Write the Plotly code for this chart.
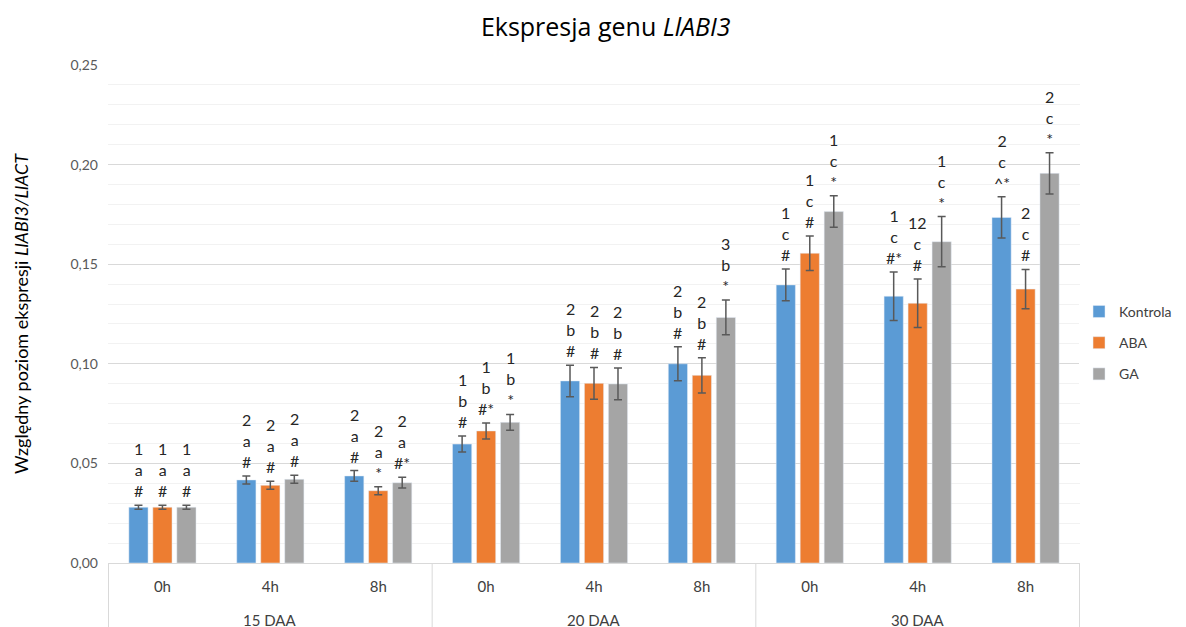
import plotly.graph_objects as go

group_names = ["15 DAA", "20 DAA", "30 DAA"]
time_names = ["0h", "4h", "8h"]
groups = ["15 DAA"] * 3 + ["20 DAA"] * 3 + ["30 DAA"] * 3
times = ["0h", "4h", "8h"] * 3
categories = [g + " | " + t for g, t in zip(groups, times)]

series_names = ["Kontrola", "ABA", "GA"]
kontrola = [0.028, 0.0417, 0.0437, 0.0597, 0.0914, 0.1000, 0.1396, 0.1339, 0.1735]
aba = [0.028, 0.039, 0.0363, 0.0663, 0.0902, 0.0942, 0.1555, 0.1304, 0.1375]
ga = [0.028, 0.042, 0.0403, 0.0706, 0.0899, 0.1233, 0.1764, 0.1613, 0.1956]

kontrola_err = [0.001, 0.002, 0.0027, 0.004, 0.0079, 0.0085, 0.008, 0.0122, 0.0104]
aba_err = [0.001, 0.002, 0.002, 0.004, 0.008, 0.0088, 0.0087, 0.0122, 0.0099]
ga_err = [0.001, 0.002, 0.0027, 0.004, 0.008, 0.0087, 0.0079, 0.0126, 0.0104]

kontrola_lbl = ["1<br>a<br>#", "2<br>a<br>#", "2<br>a<br>#", "1<br>b<br>#", "2<br>b<br>#", "2<br>b<br>#",
                "1<br>c<br>#", "1<br>c<br>#*", "2<br>c<br>^*"]
aba_lbl = ["1<br>a<br>#", "2<br>a<br>#", "2<br>a<br>*", "1<br>b<br>#*", "2<br>b<br>#", "2<br>b<br>#",
           "1<br>c<br>#", "12<br>c<br>#", "2<br>c<br>#"]
ga_lbl = ["1<br>a<br>#", "2<br>a<br>#", "2<br>a<br>#*", "1<br>b<br>*", "2<br>b<br>#", "3<br>b<br>*",
          "1<br>c<br>*", "1<br>c<br>*", "2<br>c<br>*"]

colors = ["#5B9BD5", "#ED7D31", "#A5A5A5"]
values = [kontrola, aba, ga]
errors = [kontrola_err, aba_err, ga_err]
labels = [kontrola_lbl, aba_lbl, ga_lbl]

font_family = "Lato, Open Sans, sans-serif"

fig = go.Figure()
for name, vals, errs, col in zip(series_names, values, errors, colors):
    fig.add_trace(go.Bar(
        name=name, x=categories, y=vals, marker_color=col,
        legendgroup=name,
        error_y=dict(type="data", array=errs, visible=True, color="#595959", thickness=1.5, width=4),
    ))

offsets = [-0.222, 0.0, 0.222]
annotations = []
for s in range(3):
    for i in range(9):
        annotations.append(dict(
            x=i + offsets[s], y=values[s][i] + errors[s][i], xref="x", yref="y",
            text=labels[s][i], showarrow=False, yanchor="bottom", yshift=3,
            font=dict(size=16, color="#262626", family=font_family),
        ))
for gi, gname in enumerate(group_names):
    annotations.append(dict(
        x=gi * 3 + 1, y=-0.1145, xref="x", yref="paper", text=gname, showarrow=False,
        yanchor="middle", font=dict(size=15, color="#404040", family=font_family),
    ))

shapes = []
for xb in [-0.5, 2.5, 5.5, 8.5]:
    shapes.append(dict(type="line", xref="x", yref="paper", x0=xb, x1=xb, y0=0, y1=-0.2,
                       line=dict(color="#D9D9D9", width=1)))

fig.update_layout(
    width=1186, height=627,
    margin=dict(l=100, r=114, t=57, b=72, autoexpand=False),
    paper_bgcolor="white", plot_bgcolor="white",
    barmode="group", bargap=0.333, bargroupgap=0.2,
    separators=", ",
    title=dict(text="Ekspresja genu <i>LlABI3</i>", x=0.504, xanchor="center", y=0.97, yanchor="middle",
               font=dict(size=25, color="#000000", family="Open Sans, Lato, sans-serif")),
    font=dict(family=font_family, color="#595959"),
    legend=dict(x=0.999, y=0.442, xanchor="left", yanchor="middle", tracegroupgap=10,
                font=dict(size=14, color="#404040", family=font_family)),
    annotations=annotations,
    shapes=shapes,
)
fig.update_yaxes(
    range=[0, 0.25], dtick=0.05, tickformat=".2f", showgrid=True, gridcolor="#D9D9D9", gridwidth=1,
    minor=dict(dtick=0.01, showgrid=True, gridcolor="#F2F2F2"),
    zeroline=False, ticks="", ticklabelstandoff=9, tickfont=dict(size=14, color="#595959"),
    title=dict(text="Względny poziom ekspresji <i>LlABI3/LlACT</i>", font=dict(size=18, color="#000000"),
               standoff=37),
)
fig.update_xaxes(
    type="category", categoryorder="array", categoryarray=categories,
    tickmode="array", tickvals=categories, ticktext=times,
    showline=True, linecolor="#D9D9D9", showgrid=False,
    tickfont=dict(size=15, color="#404040"), ticks="", ticklabelstandoff=10,
)

fig.write_html("out.html")
